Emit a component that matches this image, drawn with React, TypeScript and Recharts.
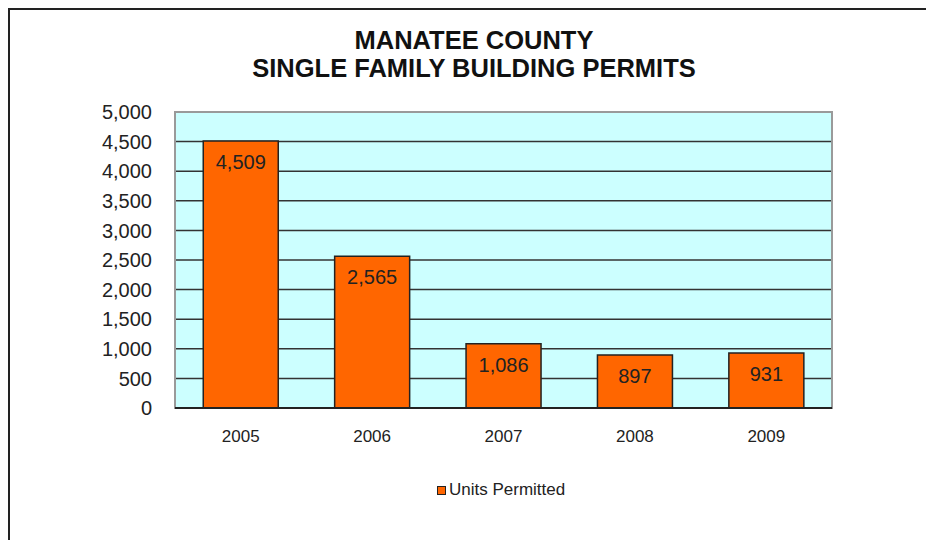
import { BarChart, Bar, XAxis, YAxis, CartesianGrid, LabelList, ReferenceArea } from "recharts"

const years = ["2005", "2006", "2007", "2008", "2009"]
const unitsPermitted = [4509, 2565, 1086, 897, 931]
const yTicks = [0, 500, 1000, 1500, 2000, 2500, 3000, 3500, 4000, 4500, 5000]

const data = years.map((year, i) => ({ year, units: unitsPermitted[i] }))

const font = "'Liberation Sans', Arial, sans-serif"
const barColor = "#FF6600"

function formatNum(value: number) {
  return value.toLocaleString("en-US")
}

export default function App() {
  return (
    <div
      style={{
        position: "absolute",
        top: 8,
        left: 8,
        width: 918,
        height: 532,
        borderTop: "2px solid #222",
        borderLeft: "2px solid #222",
        boxSizing: "border-box",
        background: "#fff",
        fontFamily: font,
        color: "#111",
        overflow: "hidden",
      }}
    >
      <div
        style={{
          position: "absolute",
          left: 64,
          width: 800,
          top: 16,
          textAlign: "center",
          fontWeight: "bold",
          fontSize: 25.5,
          lineHeight: "28px",
        }}
      >
        MANATEE COUNTY
        <br />
        SINGLE FAMILY BUILDING PERMITS
      </div>

      <BarChart
        width={916}
        height={530}
        data={data}
        margin={{ top: 102, right: 94, left: 0, bottom: 92 }}
        barCategoryGap="21.5%"
      >
        <CartesianGrid vertical={false} fill="#CCFFFF" stroke="#333" strokeWidth={1.5} />
        <ReferenceArea y1={0} y2={5000} fill="none" stroke="#9a9a9a" strokeWidth={2} />
        <XAxis
          dataKey="year"
          height={40}
          axisLine={{ stroke: "#222", strokeWidth: 2 }}
          tickLine={false}
          tickSize={0}
          tickMargin={22}
          tick={{ fontSize: 17, fill: "#222", fontFamily: font }}
        />
        <YAxis
          width={165}
          domain={[0, 5000]}
          ticks={yTicks}
          interval={0}
          axisLine={false}
          tickLine={false}
          tickSize={0}
          tickMargin={23}
          tickFormatter={formatNum}
          tick={{ fontSize: 20, fill: "#222", fontFamily: font }}
        />
        <Bar dataKey="units" fill={barColor} stroke="#222" strokeWidth={1.5} isAnimationActive={false}>
          <LabelList
            dataKey="units"
            position="insideTop"
            offset={14}
            formatter={(v: number) => formatNum(v)}
            style={{ fontSize: 20, fill: "#222", fontFamily: font }}
          />
        </Bar>
      </BarChart>

      <div
        style={{
          position: "absolute",
          left: 427,
          top: 470,
          display: "flex",
          alignItems: "center",
          fontSize: 17,
          lineHeight: "20px",
          color: "#222",
        }}
      >
        <span
          style={{
            display: "inline-block",
            width: 7,
            height: 7,
            background: barColor,
            border: "1px solid #222",
            marginRight: 3,
          }}
        />
        Units Permitted
      </div>
    </div>
  )
}
